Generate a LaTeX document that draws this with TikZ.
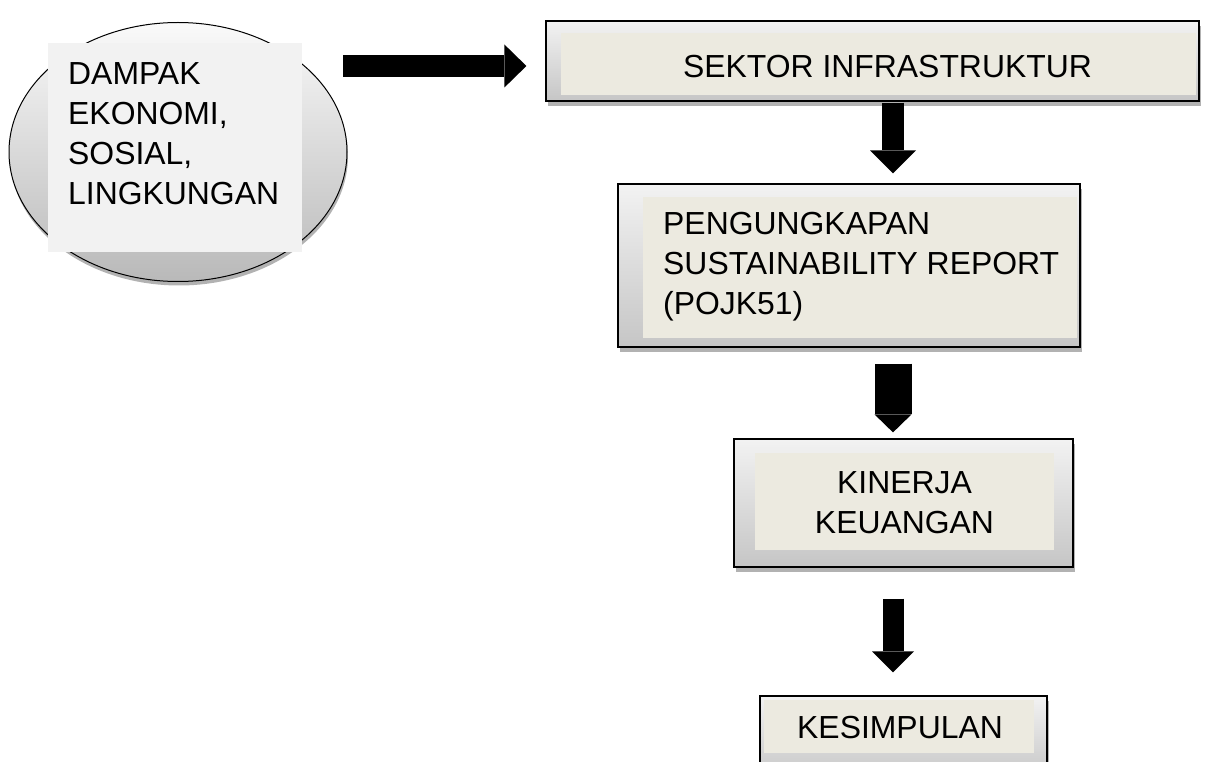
\documentclass[tikz,border=0pt]{standalone}
\usepackage{fontspec}
\setmainfont{Liberation Sans}
\usetikzlibrary{shapes,shadows,calc,arrows.meta,positioning}

\definecolor{panelbeige}{RGB}{236,234,224}
\definecolor{panelgrey}{RGB}{242,242,242}

\tikzset{
  lbl/.style={font=\fontsize{31.9}{40}\selectfont,inner sep=0pt},
  frame/.style args={#1,#2}{
  draw=black,
  line width=1.2pt,
  inner sep=0pt,
  top color=gray!10,
  bottom color=gray!45,
  drop shadow={shadow xshift=1.5pt,shadow yshift=-5pt,fill=gray!60,opacity=1},
  minimum width=#1,
  minimum height=#2,
  },
  panel/.style args={#1,#2}{
  fill=panelbeige,
  inner sep=0pt,
  minimum width=#1,
  minimum height=#2,
  },
  fat/.style n args={3}{line width=#1,-{Triangle[width=#2,length=#3,line width=0pt]}},
}

\begin{document}
\begin{tikzpicture}[x=1pt,y=-1pt]
    \useasboundingbox (0,0) rectangle (1224,762);
    % left bubble
    \node [ellipse,draw=black,line width=1pt,top color=gray!4,bottom color=gray!55,
      minimum width=338pt,minimum height=259pt,
      drop shadow={shadow xshift=1pt,shadow yshift=-4pt,fill=gray!60,opacity=1}] (dampak) at (178,152) {};
    \node [fill=panelgrey,inner sep=0pt,minimum width=254pt,minimum height=209pt] (dampakpanel) at (175,147.5) {};
    \node [lbl,align=left,anchor=north west] (dampaktxt) at (68,62.2) {DAMPAK\\EKONOMI,\\SOSIAL,\\LINGKUNGAN};
    % boxes
    \node [frame={653pt,80pt}] (sektor) at (872.5,61) {};
    \node [panel={635pt,62pt}] (sektorpanel) at (878.5,64) {};
    \node [lbl,anchor=base] (sektortxt) at (887.5,78) {SEKTOR INFRASTRUKTUR};
    \node [frame={462pt,163pt}] (pengungkapan) at (849,265.5) {};
    \node [panel={434pt,141pt}] (pengungkapanpanel) at (860,267.5) {};
    \node [lbl,align=left,anchor=north west] (pengungkapantxt) at (663,212.2) {PENGUNGKAPAN\\SUSTAINABILITY REPORT\\(POJK51)};
    \node [frame={339pt,128pt}] (kinerja) at (903.5,503) {};
    \node [panel={299pt,97pt}] (kinerjapanel) at (904.5,501.5) {};
    \node [lbl,align=center,anchor=north] (kinerjatxt) at (904.5,471.2) {KINERJA\\KEUANGAN};
    \node [frame={287pt,84pt}] (kesimpulan) at (903.5,738) {};
    \node [panel={270pt,53pt}] (kesimpulanpanel) at (899,726.5) {};
    \node [lbl,anchor=base west] (kesimpulantxt) at (797,738) {KESIMPULAN};
    % block arrows
    \coordinate (axis) at (893,0);
    \coordinate (a0) at (343,66);
    \draw [fat={22pt}{43pt}{22pt},shorten >=19pt] (a0) -- (sektor.west |- a0);
    \draw [fat={22pt}{46pt}{23pt},shorten <=1pt,shorten >=10pt] (sektor.south -| axis) -- (pengungkapan.north -| axis);
    \draw [fat={37pt}{37pt}{18pt},shorten <=16pt,shorten >=6pt] (pengungkapan.south -| axis) -- (kinerja.north -| axis);
    \draw [fat={21pt}{42pt}{21pt},shorten <=31pt,shorten >=23pt] (kinerja.south -| axis) -- (kesimpulan.north -| axis);
\end{tikzpicture}
\end{document}
